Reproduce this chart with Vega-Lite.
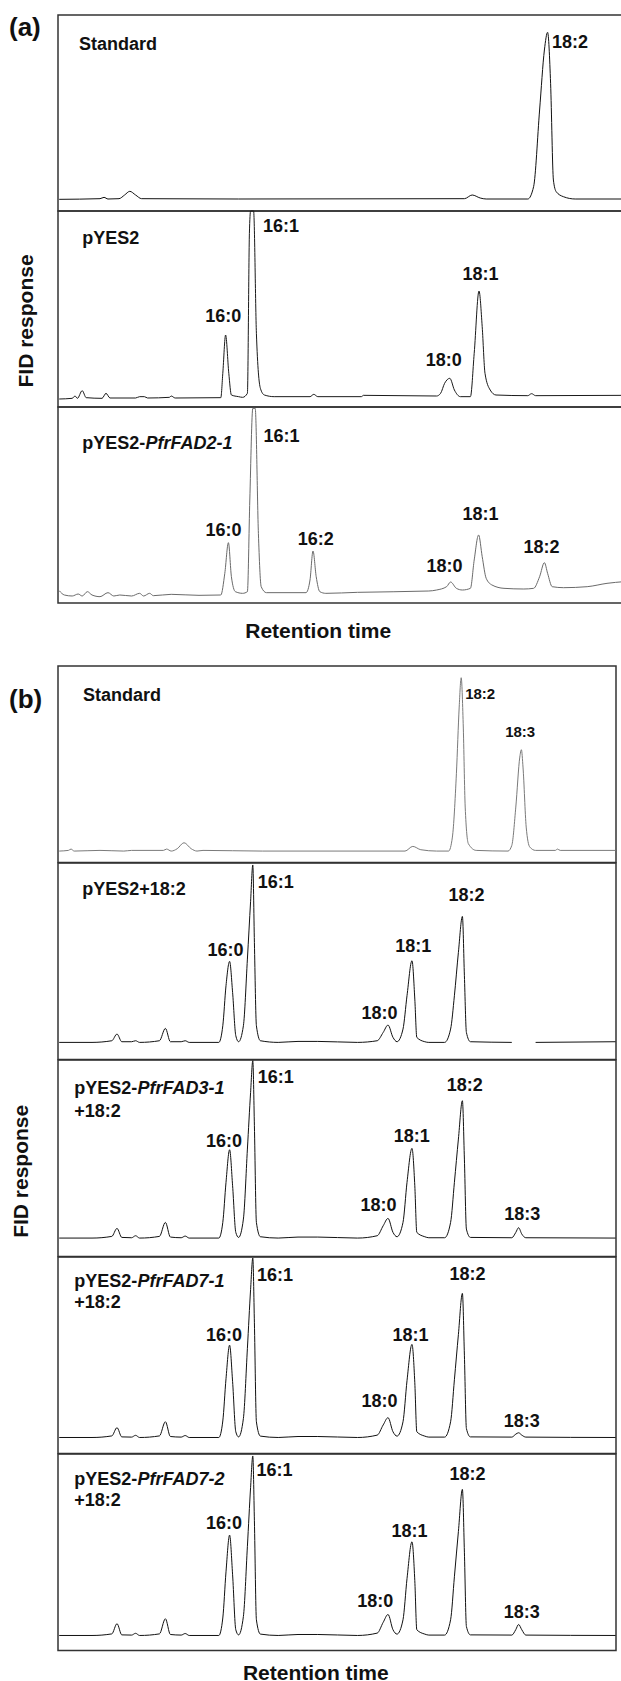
{
"$schema": "https://vega.github.io/schema/vega-lite/v6.json",
"padding": {"left": 8, "top": 14, "right": 0, "bottom": 0},
"background": "white",
"config": {"view": {"stroke": "#333", "strokeWidth": 1.5}},
"datasets": {
"a": [
{"panel":"a1","kind":"trace","t":0.06,"r":5.95},{"panel":"a1","kind":"trace","t":2.10,"r":6.29},{"panel":"a1","kind":"trace","t":2.30,"r":6.97},{"panel":"a1","kind":"trace","t":2.50,"r":6.12},{"panel":"a1","kind":"trace","t":3.05,"r":6.29},{"panel":"a1","kind":"trace","t":3.33,"r":8.16},{"panel":"a1","kind":"trace","t":3.59,"r":10.03},{"panel":"a1","kind":"trace","t":3.88,"r":8.16},{"panel":"a1","kind":"trace","t":4.18,"r":6.29},{"panel":"a1","kind":"trace","t":9.03,"r":6.12},{"panel":"a1","kind":"trace","t":20.32,"r":6.29},{"panel":"a1","kind":"trace","t":20.71,"r":8.16},{"panel":"a1","kind":"trace","t":21.11,"r":6.63},{"panel":"a1","kind":"trace","t":21.41,"r":6.12},{"panel":"a1","kind":"trace","t":23.49,"r":6.12},{"panel":"a1","kind":"trace","t":23.78,"r":12.41},{"panel":"a1","kind":"trace","t":24.08,"r":51.53},{"panel":"a1","kind":"trace","t":24.32,"r":82.14},{"panel":"a1","kind":"trace","t":24.48,"r":91.16},{"panel":"a1","kind":"trace","t":24.63,"r":65.14},{"panel":"a1","kind":"trace","t":24.77,"r":15.82},{"panel":"a1","kind":"trace","t":24.91,"r":9.86},{"panel":"a1","kind":"trace","t":25.27,"r":7.31},{"panel":"a1","kind":"trace","t":25.86,"r":6.12},{"panel":"a1","kind":"trace","t":28.3,"r":6.12},
{"panel":"a1","kind":"tag","t":-2.45,"r":93.4,"label":"(a)"},
{"panel":"a1","kind":"title","t":1.05,"r":84.7,"label":"Standard"},
{"panel":"a1","kind":"peak","t":25.6,"r":85.7,"label":"18:2"},

{"panel":"a2","kind":"trace","t":0.06,"r":4.08},{"panel":"a2","kind":"trace","t":0.71,"r":4.42},{"panel":"a2","kind":"trace","t":0.85,"r":5.61},{"panel":"a2","kind":"trace","t":0.97,"r":4.42},{"panel":"a2","kind":"trace","t":1.21,"r":8.33},{"panel":"a2","kind":"trace","t":1.41,"r":4.76},{"panel":"a2","kind":"trace","t":2.20,"r":4.42},{"panel":"a2","kind":"trace","t":2.40,"r":6.97},{"panel":"a2","kind":"trace","t":2.60,"r":4.59},{"panel":"a2","kind":"trace","t":3.88,"r":4.59},{"panel":"a2","kind":"trace","t":4.08,"r":5.27},{"panel":"a2","kind":"trace","t":4.32,"r":5.27},{"panel":"a2","kind":"trace","t":4.48,"r":4.59},{"panel":"a2","kind":"trace","t":5.57,"r":4.93},{"panel":"a2","kind":"trace","t":5.66,"r":5.61},{"panel":"a2","kind":"trace","t":5.86,"r":4.59},{"panel":"a2","kind":"trace","t":8.14,"r":4.76},{"panel":"a2","kind":"trace","t":8.24,"r":17.18},{"panel":"a2","kind":"trace","t":8.38,"r":36.73},{"panel":"a2","kind":"trace","t":8.54,"r":17.18},{"panel":"a2","kind":"trace","t":8.67,"r":6.12},{"panel":"a2","kind":"trace","t":9.03,"r":5.27},{"panel":"a2","kind":"trace","t":9.23,"r":4.93},{"panel":"a2","kind":"trace","t":9.47,"r":6.97},{"panel":"a2","kind":"trace","t":9.57,"r":88.61},{"panel":"a2","kind":"trace","t":9.63,"r":100},{"panel":"a2","kind":"trace","t":9.78,"r":100},{"panel":"a2","kind":"trace","t":9.92,"r":37.59},{"panel":"a2","kind":"trace","t":10.12,"r":9.52},{"panel":"a2","kind":"trace","t":10.32,"r":6.12},{"panel":"a2","kind":"trace","t":10.81,"r":5.27},{"panel":"a2","kind":"trace","t":12.60,"r":5.27},{"panel":"a2","kind":"trace","t":12.79,"r":6.46},{"panel":"a2","kind":"trace","t":12.99,"r":5.27},{"panel":"a2","kind":"trace","t":15.17,"r":5.27},{"panel":"a2","kind":"trace","t":15.27,"r":5.95},{"panel":"a2","kind":"trace","t":18.93,"r":5.61},{"panel":"a2","kind":"trace","t":19.13,"r":6.97},{"panel":"a2","kind":"trace","t":19.33,"r":12.07},{"panel":"a2","kind":"trace","t":19.59,"r":14.63},{"panel":"a2","kind":"trace","t":19.82,"r":8.67},{"panel":"a2","kind":"trace","t":20.12,"r":5.27},{"panel":"a2","kind":"trace","t":20.62,"r":5.27},{"panel":"a2","kind":"trace","t":20.81,"r":27.38},{"panel":"a2","kind":"trace","t":21.05,"r":59.18},{"panel":"a2","kind":"trace","t":21.21,"r":40.99},{"panel":"a2","kind":"trace","t":21.35,"r":17.18},{"panel":"a2","kind":"trace","t":21.61,"r":8.67},{"panel":"a2","kind":"trace","t":21.90,"r":6.12},{"panel":"a2","kind":"trace","t":23.49,"r":5.78},{"panel":"a2","kind":"trace","t":23.68,"r":6.80},{"panel":"a2","kind":"trace","t":23.88,"r":5.78},{"panel":"a2","kind":"trace","t":28.3,"r":5.95},
{"panel":"a2","kind":"title","t":1.21,"r":85.7,"label":"pYES2"},
{"panel":"a2","kind":"peak","t":8.26,"r":45.7,"label":"16:0"},
{"panel":"a2","kind":"peak","t":11.15,"r":91.6,"label":"16:1"},
{"panel":"a2","kind":"peak","t":19.29,"r":23.6,"label":"18:0"},
{"panel":"a2","kind":"peak","t":21.13,"r":67.3,"label":"18:1"},
{"panel":"a2","kind":"ytitle","t":-1.57,"r":43.9,"label":"FID response"},

{"panel":"a3","kind":"trace","t":0.06,"r":6.29},{"panel":"a3","kind":"trace","t":0.32,"r":4.08},{"panel":"a3","kind":"trace","t":0.71,"r":3.57},{"panel":"a3","kind":"trace","t":1.01,"r":4.59},{"panel":"a3","kind":"trace","t":1.21,"r":3.57},{"panel":"a3","kind":"trace","t":1.47,"r":5.78},{"panel":"a3","kind":"trace","t":1.70,"r":4.08},{"panel":"a3","kind":"trace","t":2.10,"r":3.23},{"panel":"a3","kind":"trace","t":2.50,"r":5.27},{"panel":"a3","kind":"trace","t":2.79,"r":3.57},{"panel":"a3","kind":"trace","t":3.09,"r":4.08},{"panel":"a3","kind":"trace","t":3.68,"r":3.57},{"panel":"a3","kind":"trace","t":4.08,"r":4.93},{"panel":"a3","kind":"trace","t":4.28,"r":3.57},{"panel":"a3","kind":"trace","t":4.58,"r":4.93},{"panel":"a3","kind":"trace","t":4.77,"r":3.74},{"panel":"a3","kind":"trace","t":5.66,"r":4.42},{"panel":"a3","kind":"trace","t":7.05,"r":3.91},{"panel":"a3","kind":"trace","t":8.14,"r":4.08},{"panel":"a3","kind":"trace","t":8.34,"r":15.14},{"panel":"a3","kind":"trace","t":8.52,"r":30.78},{"panel":"a3","kind":"trace","t":8.67,"r":13.44},{"panel":"a3","kind":"trace","t":8.87,"r":5.78},{"panel":"a3","kind":"trace","t":9.23,"r":4.93},{"panel":"a3","kind":"trace","t":9.47,"r":5.78},{"panel":"a3","kind":"trace","t":9.59,"r":52.55},{"panel":"a3","kind":"trace","t":9.74,"r":99.32},{"panel":"a3","kind":"trace","t":9.86,"r":99.32},{"panel":"a3","kind":"trace","t":10.02,"r":35.54},{"panel":"a3","kind":"trace","t":10.16,"r":8.33},{"panel":"a3","kind":"trace","t":10.42,"r":5.27},{"panel":"a3","kind":"trace","t":12.00,"r":5.27},{"panel":"a3","kind":"trace","t":12.40,"r":5.27},{"panel":"a3","kind":"trace","t":12.60,"r":11.73},{"panel":"a3","kind":"trace","t":12.75,"r":26.53},{"panel":"a3","kind":"trace","t":12.91,"r":13.44},{"panel":"a3","kind":"trace","t":13.09,"r":5.78},{"panel":"a3","kind":"trace","t":13.39,"r":4.93},{"panel":"a3","kind":"trace","t":14.97,"r":5.44},{"panel":"a3","kind":"trace","t":18.54,"r":6.12},{"panel":"a3","kind":"trace","t":18.93,"r":6.63},{"panel":"a3","kind":"trace","t":19.43,"r":8.33},{"panel":"a3","kind":"trace","t":19.63,"r":10.71},{"panel":"a3","kind":"trace","t":19.92,"r":7.48},{"panel":"a3","kind":"trace","t":20.22,"r":6.63},{"panel":"a3","kind":"trace","t":20.62,"r":7.48},{"panel":"a3","kind":"trace","t":20.81,"r":21.94},{"panel":"a3","kind":"trace","t":21.03,"r":34.69},{"panel":"a3","kind":"trace","t":21.21,"r":23.64},{"panel":"a3","kind":"trace","t":21.41,"r":12.59},{"panel":"a3","kind":"trace","t":21.70,"r":9.18},{"panel":"a3","kind":"trace","t":22.30,"r":7.48},{"panel":"a3","kind":"trace","t":23.29,"r":7.14},{"panel":"a3","kind":"trace","t":23.78,"r":7.48},{"panel":"a3","kind":"trace","t":24.08,"r":13.44},{"panel":"a3","kind":"trace","t":24.32,"r":20.58},{"panel":"a3","kind":"trace","t":24.48,"r":15.14},{"panel":"a3","kind":"trace","t":24.71,"r":8.33},{"panel":"a3","kind":"trace","t":25.27,"r":7.82},{"panel":"a3","kind":"trace","t":26.46,"r":8.33},{"panel":"a3","kind":"trace","t":27.45,"r":10.03},{"panel":"a3","kind":"trace","t":28.3,"r":10.9},
{"panel":"a3","kind":"title","t":1.21,"r":81.1,"label":"pYES2-"},
{"panel":"a3","kind":"italic","t":4.38,"r":81.1,"label":"PfrFAD2-1"},
{"panel":"a3","kind":"peak","t":8.28,"r":36.7,"label":"16:0"},
{"panel":"a3","kind":"peak","t":11.17,"r":84.9,"label":"16:1"},
{"panel":"a3","kind":"peak","t":12.89,"r":32.1,"label":"16:2"},
{"panel":"a3","kind":"peak","t":19.33,"r":18.5,"label":"18:0"},
{"panel":"a3","kind":"peak","t":21.13,"r":44.9,"label":"18:1"},
{"panel":"a3","kind":"peak","t":24.18,"r":27.9,"label":"18:2"},
{"panel":"a3","kind":"xtitle","t":13.01,"r":-14.6,"label":"Retention time"}
],
"b": [
{"panel":"b1","kind":"trace","t":0.06,"r":5.77},{"panel":"b1","kind":"trace","t":0.52,"r":6.11},{"panel":"b1","kind":"trace","t":0.65,"r":6.79},{"panel":"b1","kind":"trace","t":0.81,"r":5.77},{"panel":"b1","kind":"trace","t":2.10,"r":6.11},{"panel":"b1","kind":"trace","t":3.29,"r":5.77},{"panel":"b1","kind":"trace","t":3.68,"r":6.11},{"panel":"b1","kind":"trace","t":5.27,"r":6.11},{"panel":"b1","kind":"trace","t":5.43,"r":6.79},{"panel":"b1","kind":"trace","t":5.66,"r":5.77},{"panel":"b1","kind":"trace","t":5.96,"r":6.96},{"panel":"b1","kind":"trace","t":6.30,"r":10.01},{"panel":"b1","kind":"trace","t":6.66,"r":6.96},{"panel":"b1","kind":"trace","t":6.95,"r":5.77},{"panel":"b1","kind":"trace","t":7.25,"r":6.11},{"panel":"b1","kind":"trace","t":10.22,"r":5.77},{"panel":"b1","kind":"trace","t":17.35,"r":5.77},{"panel":"b1","kind":"trace","t":17.74,"r":8.15},{"panel":"b1","kind":"trace","t":18.14,"r":6.45},{"panel":"b1","kind":"trace","t":18.93,"r":5.77},{"panel":"b1","kind":"trace","t":19.53,"r":5.77},{"panel":"b1","kind":"trace","t":19.72,"r":12.90},{"panel":"b1","kind":"trace","t":19.92,"r":45.15},{"panel":"b1","kind":"trace","t":20.06,"r":79.09},{"panel":"b1","kind":"trace","t":20.16,"r":94.03},{"panel":"b1","kind":"trace","t":20.26,"r":70.61},{"panel":"b1","kind":"trace","t":20.36,"r":28.17},{"panel":"b1","kind":"trace","t":20.52,"r":9.50},{"panel":"b1","kind":"trace","t":20.91,"r":6.11},{"panel":"b1","kind":"trace","t":22.50,"r":5.77},{"panel":"b1","kind":"trace","t":22.69,"r":8.66},{"panel":"b1","kind":"trace","t":22.89,"r":28.17},{"panel":"b1","kind":"trace","t":23.09,"r":53.63},{"panel":"b1","kind":"trace","t":23.17,"r":57.37},{"panel":"b1","kind":"trace","t":23.25,"r":48.54},{"panel":"b1","kind":"trace","t":23.41,"r":17.99},{"panel":"b1","kind":"trace","t":23.59,"r":7.81},{"panel":"b1","kind":"trace","t":23.88,"r":6.11},{"panel":"b1","kind":"trace","t":24.87,"r":6.11},{"panel":"b1","kind":"trace","t":24.97,"r":6.79},{"panel":"b1","kind":"trace","t":25.11,"r":6.11},{"panel":"b1","kind":"trace","t":27.88,"r":6.11},
{"panel":"b1","kind":"tag","t":-2.45,"r":82.5,"label":"(b)"},
{"panel":"b1","kind":"title","t":1.25,"r":84.7,"label":"Standard"},
{"panel":"b1","kind":"peaksm","t":21.11,"r":85.5,"label":"18:2"},
{"panel":"b1","kind":"peaksm","t":23.11,"r":66.2,"label":"18:3"},

{"panel":"b2","kind":"trace","t":0.06,"r":8.66},{"panel":"b2","kind":"trace","t":1.70,"r":8.66},{"panel":"b2","kind":"trace","t":2.69,"r":9.50},{"panel":"b2","kind":"trace","t":2.95,"r":12.90},{"panel":"b2","kind":"trace","t":3.19,"r":9.00},{"panel":"b2","kind":"trace","t":3.68,"r":9.00},{"panel":"b2","kind":"trace","t":3.88,"r":9.50},{"panel":"b2","kind":"trace","t":4.08,"r":8.66},{"panel":"b2","kind":"trace","t":5.07,"r":9.50},{"panel":"b2","kind":"trace","t":5.37,"r":15.78},{"panel":"b2","kind":"trace","t":5.62,"r":9.00},{"panel":"b2","kind":"trace","t":6.16,"r":9.00},{"panel":"b2","kind":"trace","t":6.36,"r":9.50},{"panel":"b2","kind":"trace","t":6.56,"r":8.66},{"panel":"b2","kind":"trace","t":8.04,"r":8.66},{"panel":"b2","kind":"trace","t":8.24,"r":17.14},{"panel":"b2","kind":"trace","t":8.40,"r":37.51},{"panel":"b2","kind":"trace","t":8.58,"r":49.90},{"panel":"b2","kind":"trace","t":8.73,"r":34.11},{"panel":"b2","kind":"trace","t":8.89,"r":12.05},{"panel":"b2","kind":"trace","t":9.03,"r":9.00},{"panel":"b2","kind":"trace","t":9.27,"r":17.14},{"panel":"b2","kind":"trace","t":9.47,"r":51.08},{"panel":"b2","kind":"trace","t":9.63,"r":80.5},{"panel":"b2","kind":"trace","t":9.74,"r":99.0},{"panel":"b2","kind":"trace","t":9.82,"r":59.57},{"panel":"b2","kind":"trace","t":9.92,"r":17.14},{"panel":"b2","kind":"trace","t":10.12,"r":9.50},{"panel":"b2","kind":"trace","t":11.01,"r":8.66},{"panel":"b2","kind":"trace","t":12.00,"r":9.16},{"panel":"b2","kind":"trace","t":12.99,"r":9.16},{"panel":"b2","kind":"trace","t":14.97,"r":8.66},{"panel":"b2","kind":"trace","t":15.96,"r":9.50},{"panel":"b2","kind":"trace","t":16.26,"r":13.75},{"panel":"b2","kind":"trace","t":16.50,"r":17.48},{"panel":"b2","kind":"trace","t":16.75,"r":11.20},{"panel":"b2","kind":"trace","t":16.95,"r":9.00},{"panel":"b2","kind":"trace","t":17.25,"r":15.44},{"panel":"b2","kind":"trace","t":17.45,"r":32.42},{"panel":"b2","kind":"trace","t":17.70,"r":50.24},{"panel":"b2","kind":"trace","t":17.84,"r":30.72},{"panel":"b2","kind":"trace","t":17.94,"r":11.20},{"panel":"b2","kind":"trace","t":18.34,"r":9.00},{"panel":"b2","kind":"trace","t":18.54,"r":8.66},{"panel":"b2","kind":"trace","t":19.33,"r":8.66},{"panel":"b2","kind":"trace","t":19.63,"r":15.44},{"panel":"b2","kind":"trace","t":19.82,"r":32.42},{"panel":"b2","kind":"trace","t":20.02,"r":54.48},{"panel":"b2","kind":"trace","t":20.22,"r":72.81},{"panel":"b2","kind":"trace","t":20.32,"r":42.60},{"panel":"b2","kind":"trace","t":20.42,"r":13.75},{"panel":"b2","kind":"trace","t":20.62,"r":9.00},{"panel":"b2","kind":"trace","t":22.69,"r":8.66},{"panel":"b2","kind":"trace","t":23.88,"r":8.66,"seg":2},{"panel":"b2","kind":"trace","t":27.88,"r":9.00,"seg":2},
{"panel":"b2","kind":"title","t":1.21,"r":86.4,"label":"pYES2+18:2"},
{"panel":"b2","kind":"peak","t":8.38,"r":55.3,"label":"16:0"},
{"panel":"b2","kind":"peak","t":10.89,"r":89.8,"label":"16:1"},
{"panel":"b2","kind":"peak","t":16.08,"r":23.1,"label":"18:0"},
{"panel":"b2","kind":"peak","t":17.76,"r":57.0,"label":"18:1"},
{"panel":"b2","kind":"peak","t":20.42,"r":83.3,"label":"18:2"},

{"panel":"b3","kind":"trace","t":0.06,"r":9.33},{"panel":"b3","kind":"trace","t":1.70,"r":9.33},{"panel":"b3","kind":"trace","t":2.69,"r":10.18},{"panel":"b3","kind":"trace","t":2.95,"r":14.26},{"panel":"b3","kind":"trace","t":3.19,"r":9.67},{"panel":"b3","kind":"trace","t":3.68,"r":9.50},{"panel":"b3","kind":"trace","t":3.88,"r":10.52},{"panel":"b3","kind":"trace","t":4.08,"r":9.33},{"panel":"b3","kind":"trace","t":5.07,"r":10.18},{"panel":"b3","kind":"trace","t":5.37,"r":17.31},{"panel":"b3","kind":"trace","t":5.62,"r":9.84},{"panel":"b3","kind":"trace","t":6.16,"r":9.50},{"panel":"b3","kind":"trace","t":6.36,"r":10.35},{"panel":"b3","kind":"trace","t":6.56,"r":9.33},{"panel":"b3","kind":"trace","t":8.04,"r":9.33},{"panel":"b3","kind":"trace","t":8.24,"r":17.31},{"panel":"b3","kind":"trace","t":8.40,"r":37.68},{"panel":"b3","kind":"trace","t":8.58,"r":54.31},{"panel":"b3","kind":"trace","t":8.73,"r":35.98},{"panel":"b3","kind":"trace","t":8.89,"r":12.22},{"panel":"b3","kind":"trace","t":9.03,"r":9.67},{"panel":"b3","kind":"trace","t":9.27,"r":19.01},{"panel":"b3","kind":"trace","t":9.47,"r":54.65},{"panel":"b3","kind":"trace","t":9.63,"r":83.50},{"panel":"b3","kind":"trace","t":9.74,"r":99.63},{"panel":"b3","kind":"trace","t":9.82,"r":66.53},{"panel":"b3","kind":"trace","t":9.92,"r":17.31},{"panel":"b3","kind":"trace","t":10.12,"r":10.01},{"panel":"b3","kind":"trace","t":11.01,"r":9.33},{"panel":"b3","kind":"trace","t":12.00,"r":9.84},{"panel":"b3","kind":"trace","t":12.99,"r":9.84},{"panel":"b3","kind":"trace","t":14.97,"r":9.33},{"panel":"b3","kind":"trace","t":15.96,"r":10.52},{"panel":"b3","kind":"trace","t":16.26,"r":15.61},{"panel":"b3","kind":"trace","t":16.50,"r":19.35},{"panel":"b3","kind":"trace","t":16.75,"r":12.22},{"panel":"b3","kind":"trace","t":16.95,"r":10.01},{"panel":"b3","kind":"trace","t":17.25,"r":17.31},{"panel":"b3","kind":"trace","t":17.45,"r":37.68},{"panel":"b3","kind":"trace","t":17.70,"r":54.99},{"panel":"b3","kind":"trace","t":17.84,"r":35.98},{"panel":"b3","kind":"trace","t":17.94,"r":12.22},{"panel":"b3","kind":"trace","t":18.34,"r":10.01},{"panel":"b3","kind":"trace","t":18.54,"r":9.50},{"panel":"b3","kind":"trace","t":19.33,"r":9.50},{"panel":"b3","kind":"trace","t":19.63,"r":17.31},{"panel":"b3","kind":"trace","t":19.82,"r":37.68},{"panel":"b3","kind":"trace","t":20.02,"r":59.74},{"panel":"b3","kind":"trace","t":20.22,"r":79.26},{"panel":"b3","kind":"trace","t":20.32,"r":49.56},{"panel":"b3","kind":"trace","t":20.42,"r":13.92},{"panel":"b3","kind":"trace","t":20.62,"r":9.67},{"panel":"b3","kind":"trace","t":22.69,"r":9.50},{"panel":"b3","kind":"trace","t":22.89,"r":12.22},{"panel":"b3","kind":"trace","t":23.03,"r":14.60},{"panel":"b3","kind":"trace","t":23.19,"r":11.37},{"panel":"b3","kind":"trace","t":23.39,"r":9.50},{"panel":"b3","kind":"trace","t":27.88,"r":9.33},
{"panel":"b3","kind":"title","t":0.81,"r":85.3,"label":"pYES2-"},
{"panel":"b3","kind":"italic","t":3.98,"r":85.3,"label":"PfrFAD3-1"},
{"panel":"b3","kind":"title","t":0.81,"r":73.7,"label":"+18:2"},
{"panel":"b3","kind":"peak","t":8.3,"r":58.0,"label":"16:0"},
{"panel":"b3","kind":"peak","t":10.89,"r":90.6,"label":"16:1"},
{"panel":"b3","kind":"peak","t":16.02,"r":25.5,"label":"18:0"},
{"panel":"b3","kind":"peak","t":17.69,"r":60.6,"label":"18:1"},
{"panel":"b3","kind":"peak","t":20.34,"r":86.6,"label":"18:2"},
{"panel":"b3","kind":"peak","t":23.21,"r":21.2,"label":"18:3"},
{"panel":"b3","kind":"ytitle","t":-1.82,"r":43.3,"label":"FID response"},

{"panel":"b4","kind":"trace","t":0.06,"r":8.1},{"panel":"b4","kind":"trace","t":1.70,"r":8.1},{"panel":"b4","kind":"trace","t":2.69,"r":8.9},{"panel":"b4","kind":"trace","t":2.95,"r":13.1},{"panel":"b4","kind":"trace","t":3.19,"r":8.4},{"panel":"b4","kind":"trace","t":3.68,"r":8.3},{"panel":"b4","kind":"trace","t":3.88,"r":9.2},{"panel":"b4","kind":"trace","t":4.08,"r":8.1},{"panel":"b4","kind":"trace","t":5.07,"r":8.9},{"panel":"b4","kind":"trace","t":5.37,"r":16.1},{"panel":"b4","kind":"trace","t":5.62,"r":8.6},{"panel":"b4","kind":"trace","t":6.16,"r":8.3},{"panel":"b4","kind":"trace","t":6.36,"r":9.1},{"panel":"b4","kind":"trace","t":6.56,"r":8.1},{"panel":"b4","kind":"trace","t":8.04,"r":8.1},{"panel":"b4","kind":"trace","t":8.24,"r":16.5},{"panel":"b4","kind":"trace","t":8.40,"r":38.0},{"panel":"b4","kind":"trace","t":8.58,"r":55.1},{"panel":"b4","kind":"trace","t":8.73,"r":36.5},{"panel":"b4","kind":"trace","t":8.89,"r":11.0},{"panel":"b4","kind":"trace","t":9.03,"r":8.4},{"panel":"b4","kind":"trace","t":9.27,"r":17.8},{"panel":"b4","kind":"trace","t":9.47,"r":53.5},{"panel":"b4","kind":"trace","t":9.63,"r":83.5},{"panel":"b4","kind":"trace","t":9.74,"r":99.5},{"panel":"b4","kind":"trace","t":9.82,"r":66.5},{"panel":"b4","kind":"trace","t":9.92,"r":16.1},{"panel":"b4","kind":"trace","t":10.12,"r":8.8},{"panel":"b4","kind":"trace","t":11.01,"r":8.1},{"panel":"b4","kind":"trace","t":12.00,"r":8.6},{"panel":"b4","kind":"trace","t":12.99,"r":8.6},{"panel":"b4","kind":"trace","t":14.97,"r":8.1},{"panel":"b4","kind":"trace","t":15.96,"r":9.3},{"panel":"b4","kind":"trace","t":16.26,"r":14.5},{"panel":"b4","kind":"trace","t":16.50,"r":18.2},{"panel":"b4","kind":"trace","t":16.75,"r":11.0},{"panel":"b4","kind":"trace","t":16.95,"r":8.8},{"panel":"b4","kind":"trace","t":17.25,"r":16.1},{"panel":"b4","kind":"trace","t":17.45,"r":37.0},{"panel":"b4","kind":"trace","t":17.70,"r":55.5},{"panel":"b4","kind":"trace","t":17.84,"r":36.0},{"panel":"b4","kind":"trace","t":17.94,"r":11.0},{"panel":"b4","kind":"trace","t":18.34,"r":8.8},{"panel":"b4","kind":"trace","t":18.54,"r":8.3},{"panel":"b4","kind":"trace","t":19.33,"r":8.3},{"panel":"b4","kind":"trace","t":19.63,"r":16.1},{"panel":"b4","kind":"trace","t":19.82,"r":37.5},{"panel":"b4","kind":"trace","t":20.02,"r":60.5},{"panel":"b4","kind":"trace","t":20.22,"r":81.5},{"panel":"b4","kind":"trace","t":20.32,"r":50.0},{"panel":"b4","kind":"trace","t":20.42,"r":12.7},{"panel":"b4","kind":"trace","t":20.62,"r":8.4},{"panel":"b4","kind":"trace","t":22.69,"r":8.3},{"panel":"b4","kind":"trace","t":22.89,"r":9.8},{"panel":"b4","kind":"trace","t":23.03,"r":10.5},{"panel":"b4","kind":"trace","t":23.19,"r":9.3},{"panel":"b4","kind":"trace","t":23.39,"r":8.3},{"panel":"b4","kind":"trace","t":27.88,"r":8.1},
{"panel":"b4","kind":"title","t":0.81,"r":87.1,"label":"pYES2-"},
{"panel":"b4","kind":"italic","t":3.98,"r":87.1,"label":"PfrFAD7-1"},
{"panel":"b4","kind":"title","t":0.81,"r":76.4,"label":"+18:2"},
{"panel":"b4","kind":"peak","t":8.3,"r":59.9,"label":"16:0"},
{"panel":"b4","kind":"peak","t":10.85,"r":90.5,"label":"16:1"},
{"panel":"b4","kind":"peak","t":16.08,"r":26.3,"label":"18:0"},
{"panel":"b4","kind":"peak","t":17.63,"r":59.9,"label":"18:1"},
{"panel":"b4","kind":"peak","t":20.48,"r":90.8,"label":"18:2"},
{"panel":"b4","kind":"peak","t":23.19,"r":16.1,"label":"18:3"},

{"panel":"b5","kind":"trace","t":0.06,"r":7.6},{"panel":"b5","kind":"trace","t":1.70,"r":7.6},{"panel":"b5","kind":"trace","t":2.69,"r":8.4},{"panel":"b5","kind":"trace","t":2.95,"r":13.6},{"panel":"b5","kind":"trace","t":3.19,"r":7.9},{"panel":"b5","kind":"trace","t":3.68,"r":7.8},{"panel":"b5","kind":"trace","t":3.88,"r":8.7},{"panel":"b5","kind":"trace","t":4.08,"r":7.6},{"panel":"b5","kind":"trace","t":5.07,"r":8.4},{"panel":"b5","kind":"trace","t":5.37,"r":16.1},{"panel":"b5","kind":"trace","t":5.62,"r":8.1},{"panel":"b5","kind":"trace","t":6.16,"r":7.8},{"panel":"b5","kind":"trace","t":6.36,"r":8.6},{"panel":"b5","kind":"trace","t":6.56,"r":7.6},{"panel":"b5","kind":"trace","t":8.04,"r":7.6},{"panel":"b5","kind":"trace","t":8.24,"r":16.5},{"panel":"b5","kind":"trace","t":8.40,"r":40.0},{"panel":"b5","kind":"trace","t":8.58,"r":58.7},{"panel":"b5","kind":"trace","t":8.73,"r":38.5},{"panel":"b5","kind":"trace","t":8.89,"r":10.5},{"panel":"b5","kind":"trace","t":9.03,"r":7.9},{"panel":"b5","kind":"trace","t":9.27,"r":17.3},{"panel":"b5","kind":"trace","t":9.47,"r":53.0},{"panel":"b5","kind":"trace","t":9.63,"r":83.0},{"panel":"b5","kind":"trace","t":9.74,"r":99.0},{"panel":"b5","kind":"trace","t":9.82,"r":66.0},{"panel":"b5","kind":"trace","t":9.92,"r":15.6},{"panel":"b5","kind":"trace","t":10.12,"r":8.3},{"panel":"b5","kind":"trace","t":11.01,"r":7.6},{"panel":"b5","kind":"trace","t":12.00,"r":8.1},{"panel":"b5","kind":"trace","t":12.99,"r":8.1},{"panel":"b5","kind":"trace","t":14.97,"r":7.6},{"panel":"b5","kind":"trace","t":15.96,"r":8.8},{"panel":"b5","kind":"trace","t":16.26,"r":14.3},{"panel":"b5","kind":"trace","t":16.50,"r":18.3},{"panel":"b5","kind":"trace","t":16.75,"r":10.5},{"panel":"b5","kind":"trace","t":16.95,"r":8.3},{"panel":"b5","kind":"trace","t":17.25,"r":15.6},{"panel":"b5","kind":"trace","t":17.45,"r":36.5},{"panel":"b5","kind":"trace","t":17.70,"r":55.3},{"panel":"b5","kind":"trace","t":17.84,"r":35.5},{"panel":"b5","kind":"trace","t":17.94,"r":10.5},{"panel":"b5","kind":"trace","t":18.34,"r":8.3},{"panel":"b5","kind":"trace","t":18.54,"r":7.8},{"panel":"b5","kind":"trace","t":19.33,"r":7.8},{"panel":"b5","kind":"trace","t":19.63,"r":15.6},{"panel":"b5","kind":"trace","t":19.82,"r":37.5},{"panel":"b5","kind":"trace","t":20.02,"r":60.5},{"panel":"b5","kind":"trace","t":20.22,"r":82.0},{"panel":"b5","kind":"trace","t":20.32,"r":50.0},{"panel":"b5","kind":"trace","t":20.42,"r":12.2},{"panel":"b5","kind":"trace","t":20.62,"r":7.9},{"panel":"b5","kind":"trace","t":22.69,"r":7.8},{"panel":"b5","kind":"trace","t":22.89,"r":10.6},{"panel":"b5","kind":"trace","t":23.03,"r":13.2},{"panel":"b5","kind":"trace","t":23.19,"r":10.5},{"panel":"b5","kind":"trace","t":23.39,"r":7.8},{"panel":"b5","kind":"trace","t":27.88,"r":7.6},
{"panel":"b5","kind":"title","t":0.81,"r":86.7,"label":"pYES2-"},
{"panel":"b5","kind":"italic","t":3.98,"r":86.7,"label":"PfrFAD7-2"},
{"panel":"b5","kind":"title","t":0.81,"r":76.0,"label":"+18:2"},
{"panel":"b5","kind":"peak","t":8.3,"r":64.2,"label":"16:0"},
{"panel":"b5","kind":"peak","t":10.83,"r":91.5,"label":"16:1"},
{"panel":"b5","kind":"peak","t":15.86,"r":24.4,"label":"18:0"},
{"panel":"b5","kind":"peak","t":17.57,"r":60.2,"label":"18:1"},
{"panel":"b5","kind":"peak","t":20.48,"r":89.5,"label":"18:2"},
{"panel":"b5","kind":"peak","t":23.19,"r":19.0,"label":"18:3"},
{"panel":"b5","kind":"xtitle","t":12.89,"r":-12.0,"label":"Retention time"}
]
},
"vconcat": [
{
"data": {"name": "a"},
"facet": {"row": {"field": "panel", "type": "ordinal", "header": {"labels": false, "title": null, "labelPadding": 0, "titlePadding": 0}}},
"spacing": 0,
"bounds": "flush",
"spec": {
"width": 566,
"height": 196,
"encoding": {
"x": {"field": "t", "type": "quantitative", "scale": {"domain": [0, 28.3], "nice": false, "zero": false}, "axis": null},
"y": {"field": "r", "type": "quantitative", "scale": {"domain": [0, 100], "nice": false}, "axis": null}
},
"layer": [
{"transform": [{"filter": "datum.kind === 'trace'"}], "mark": {"type": "line", "strokeWidth": 1, "clip": false, "interpolate": "monotone"}, "encoding": {"color": {"field": "panel", "type": "nominal", "scale": {"domain": ["a1", "a2", "a3", "b1", "b2", "b3", "b4", "b5"], "range": ["#111111", "#1a1a1a", "#6a6a6a", "#7a7a7a", "#111111", "#111111", "#111111", "#111111"]}, "legend": null}, "detail": {"field": "seg"}}},
{"transform": [{"filter": "datum.kind === 'peak'"}], "mark": {"type": "text", "align": "center", "baseline": "middle", "font": "Liberation Sans", "fontWeight": "bold", "fontSize": 18, "fill": "#111"}, "encoding": {"text": {"field": "label"}}},
{"transform": [{"filter": "datum.kind === 'title'"}], "mark": {"type": "text", "align": "left", "baseline": "middle", "font": "Liberation Sans", "fontWeight": "bold", "fontSize": 18, "fill": "#111"}, "encoding": {"text": {"field": "label"}}},
{"transform": [{"filter": "datum.kind === 'italic'"}], "mark": {"type": "text", "align": "left", "baseline": "middle", "font": "Liberation Sans", "fontWeight": "bold", "fontStyle": "italic", "fontSize": 18, "fill": "#111"}, "encoding": {"text": {"field": "label"}}},
{"transform": [{"filter": "datum.kind === 'tag'"}], "mark": {"type": "text", "align": "left", "baseline": "middle", "font": "Liberation Sans", "fontWeight": "bold", "fontSize": 26, "fill": "#111"}, "encoding": {"text": {"field": "label"}}},
{"transform": [{"filter": "datum.kind === 'ytitle'"}], "mark": {"type": "text", "align": "center", "baseline": "middle", "angle": 270, "font": "Liberation Sans", "fontWeight": "bold", "fontSize": 21, "fill": "#111"}, "encoding": {"text": {"field": "label"}}},
{"transform": [{"filter": "datum.kind === 'xtitle'"}], "mark": {"type": "text", "align": "center", "baseline": "middle", "font": "Liberation Sans", "fontWeight": "bold", "fontSize": 21, "fill": "#111"}, "encoding": {"text": {"field": "label"}}}
]
}
},
{
"data": {"name": "b"},
"facet": {"row": {"field": "panel", "type": "ordinal", "header": {"labels": false, "title": null, "labelPadding": 0, "titlePadding": 0}}},
"spacing": 0,
"bounds": "flush",
"spec": {
"width": 558,
"height": 196.4,
"encoding": {
"x": {"field": "t", "type": "quantitative", "scale": {"domain": [0, 27.9], "nice": false, "zero": false}, "axis": null},
"y": {"field": "r", "type": "quantitative", "scale": {"domain": [0, 100], "nice": false}, "axis": null}
},
"layer": [
{"transform": [{"filter": "datum.kind === 'trace'"}], "mark": {"type": "line", "strokeWidth": 1, "clip": false, "interpolate": "monotone"}, "encoding": {"color": {"field": "panel", "type": "nominal", "scale": {"domain": ["a1", "a2", "a3", "b1", "b2", "b3", "b4", "b5"], "range": ["#111111", "#1a1a1a", "#6a6a6a", "#7a7a7a", "#111111", "#111111", "#111111", "#111111"]}, "legend": null}, "detail": {"field": "seg"}}},
{"transform": [{"filter": "datum.kind === 'peak'"}], "mark": {"type": "text", "align": "center", "baseline": "middle", "font": "Liberation Sans", "fontWeight": "bold", "fontSize": 18, "fill": "#111"}, "encoding": {"text": {"field": "label"}}},
{"transform": [{"filter": "datum.kind === 'peaksm'"}], "mark": {"type": "text", "align": "center", "baseline": "middle", "font": "Liberation Sans", "fontWeight": "bold", "fontSize": 15, "fill": "#111"}, "encoding": {"text": {"field": "label"}}},
{"transform": [{"filter": "datum.kind === 'title'"}], "mark": {"type": "text", "align": "left", "baseline": "middle", "font": "Liberation Sans", "fontWeight": "bold", "fontSize": 18, "fill": "#111"}, "encoding": {"text": {"field": "label"}}},
{"transform": [{"filter": "datum.kind === 'italic'"}], "mark": {"type": "text", "align": "left", "baseline": "middle", "font": "Liberation Sans", "fontWeight": "bold", "fontStyle": "italic", "fontSize": 18, "fill": "#111"}, "encoding": {"text": {"field": "label"}}},
{"transform": [{"filter": "datum.kind === 'tag'"}], "mark": {"type": "text", "align": "left", "baseline": "middle", "font": "Liberation Sans", "fontWeight": "bold", "fontSize": 26, "fill": "#111"}, "encoding": {"text": {"field": "label"}}},
{"transform": [{"filter": "datum.kind === 'ytitle'"}], "mark": {"type": "text", "align": "center", "baseline": "middle", "angle": 270, "font": "Liberation Sans", "fontWeight": "bold", "fontSize": 21, "fill": "#111"}, "encoding": {"text": {"field": "label"}}},
{"transform": [{"filter": "datum.kind === 'xtitle'"}], "mark": {"type": "text", "align": "center", "baseline": "middle", "font": "Liberation Sans", "fontWeight": "bold", "fontSize": 21, "fill": "#111"}, "encoding": {"text": {"field": "label"}}}
]
}
}
],
"spacing": 22
}
